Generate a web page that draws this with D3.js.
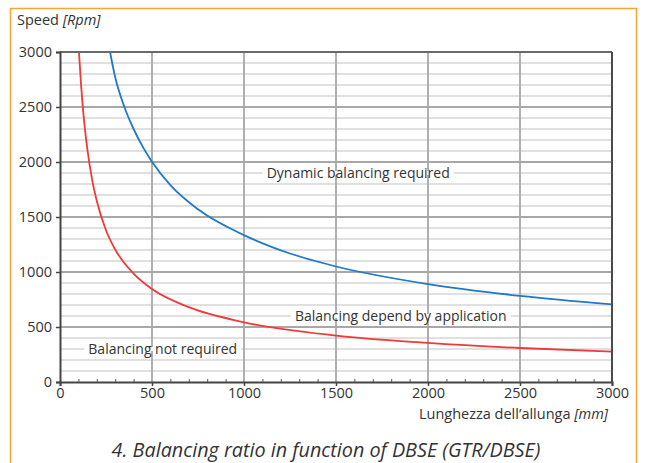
<!DOCTYPE html>
<html>
<head>
<meta charset="utf-8">
<script src="https://cdn.jsdelivr.net/npm/d3@7"></script>
<style>
  body { margin: 0; background: #fff; }
  svg { display: block; }
  text { font-family: "Open Sans", sans-serif; fill: #333; }
</style>
</head>
<body>
<svg id="chart" width="645" height="463"></svg>
<script>
// Axis ticks
const lengthTicks = [0, 500, 1000, 1500, 2000, 2500, 3000];
const speedTicks = [0, 500, 1000, 1500, 2000, 2500, 3000];

// Upper limit: above it dynamic balancing is required
const dynamicLength = [272, 300, 350, 400, 450, 500, 600, 750, 1000, 1250, 1500, 2000, 2500, 3000];
const dynamicSpeed  = [3000, 2770, 2500, 2300, 2138, 2003, 1790, 1570, 1335, 1168, 1050, 890, 783, 706];

// Lower limit: below it no balancing is needed
const staticLength = [103, 115, 130, 150, 175, 200, 250, 300, 400, 500, 700, 1000, 1500, 2000, 2500, 3000];
const staticSpeed  = [3000, 2690, 2390, 2100, 1835, 1645, 1380, 1205, 985, 845, 680, 543, 422, 355, 309, 277];

// Zone labels, anchored at (length, speed)
const zoneLabels = ["Dynamic balancing required", "Balancing depend by application", "Balancing not required"];
const zoneLength = [1123, 1277, 154];
const zoneSpeed  = [1900, 600, 300];

const svg = d3.select("#chart");
const x = d3.scaleLinear().domain([0, 3000]).range([60, 612]);
const y = d3.scaleLinear().domain([0, 3000]).range([382, 52]);

// Card frame
svg.append("path")
  .attr("d", "M10.5,470 V8.5 H636.5 V470")
  .attr("fill", "none").attr("stroke", "#f7a535").attr("stroke-width", 1.5);

// Axis titles and caption
const yTitle = svg.append("text").attr("x", 17).attr("y", 25).style("font-size", "14.5px");
yTitle.append("tspan").text("Speed ");
yTitle.append("tspan").style("font-style", "italic").text("[Rpm]");

const xTitle = svg.append("text").attr("x", 608).attr("y", 419)
  .attr("text-anchor", "end").style("font-size", "14.5px");
xTitle.append("tspan").text("Lunghezza dell\u2019allunga ");
xTitle.append("tspan").style("font-style", "italic").text("[mm]");

svg.append("text").attr("x", 326).attr("y", 457).attr("text-anchor", "middle")
  .style("font-size", "19.8px").style("font-style", "italic")
  .text("4. Balancing ratio in function of DBSE (GTR/DBSE)");

// Horizontal grid: minor every 100, major every 500
const minorSpeed = d3.range(100, 3000, 100).filter(v => v % 500 !== 0);
svg.append("g").selectAll("line").data(minorSpeed).join("line")
  .attr("x1", x(0)).attr("x2", x(3000))
  .attr("y1", d => y(d)).attr("y2", d => y(d))
  .attr("stroke", "#d6d6d6").attr("stroke-width", 1.6);
svg.append("g").selectAll("line").data(speedTicks.filter(v => v > 0 && v < 3000)).join("line")
  .attr("x1", x(0)).attr("x2", x(3000))
  .attr("y1", d => y(d)).attr("y2", d => y(d))
  .attr("stroke", "#a8a8a8").attr("stroke-width", 1.8);

// Zone labels sit on a gridline, masking it behind the text
const labels = svg.append("g");
zoneLabels.forEach((t, i) => {
  const g = labels.append("g");
  const txt = g.append("text")
    .attr("x", x(zoneLength[i])).attr("y", y(zoneSpeed[i]) + 5)
    .style("font-size", "14px").text(t);
  const w = txt.node().getComputedTextLength();
  g.insert("rect", "text")
    .attr("x", x(zoneLength[i]) - 4).attr("y", y(zoneSpeed[i]) - 2)
    .attr("width", w + 8).attr("height", 4).attr("fill", "#fff");
});

// Vertical grid
svg.append("g").selectAll("line").data(lengthTicks.filter(v => v > 0 && v < 3000)).join("line")
  .attr("x1", d => x(d)).attr("x2", d => x(d))
  .attr("y1", y(0)).attr("y2", y(3000))
  .attr("stroke", "#a8a8a8").attr("stroke-width", 1.8);

// Limit curves
const line = d3.line().curve(d3.curveMonotoneX);
svg.append("path")
  .attr("d", line(dynamicLength.map((l, i) => [x(l), y(dynamicSpeed[i])])))
  .attr("fill", "none").attr("stroke", "#1f78c8").attr("stroke-width", 1.8);
svg.append("path")
  .attr("d", line(staticLength.map((l, i) => [x(l), y(staticSpeed[i])])))
  .attr("fill", "none").attr("stroke", "#ef3a3a").attr("stroke-width", 1.8);

// Bring label text above the vertical grid lines and curves
labels.raise();

// Plot frame
svg.append("line").attr("x1", x(0)).attr("x2", x(3000)).attr("y1", y(3000)).attr("y2", y(3000))
  .attr("stroke", "#6a6a6a").attr("stroke-width", 2);
svg.append("line").attr("x1", x(3000)).attr("x2", x(3000)).attr("y1", y(0)).attr("y2", y(3000))
  .attr("stroke", "#4a4a4a").attr("stroke-width", 2);

// Axes
const yAxis = svg.append("g").attr("transform", `translate(${x(0)},0)`)
  .call(d3.axisLeft(y).tickValues(speedTicks).tickSize(4).tickPadding(4).tickFormat(d3.format("d")));
const xAxis = svg.append("g").attr("transform", `translate(0,${y(0)})`)
  .call(d3.axisBottom(x).tickValues(lengthTicks).tickSize(4).tickPadding(2).tickFormat(d3.format("d")));
const minorLength = d3.range(100, 3000, 100).filter(v => v % 500 !== 0);
svg.append("g").attr("transform", `translate(0,${y(0)})`)
  .call(d3.axisBottom(x).tickValues(minorLength).tickSize(-3).tickFormat(""))
  .call(g => g.select(".domain").remove())
  .selectAll("line").attr("stroke", "#555");

[yAxis, xAxis].forEach(a => {
  a.select(".domain").attr("stroke", "#444").attr("stroke-width", 2);
  a.selectAll(".tick line").attr("stroke", "#444").attr("stroke-width", 1.5);
  a.selectAll(".tick text").style("font-size", "14.5px").style("font-family", "Open Sans, sans-serif").attr("fill", "#333");
});
</script>
</body>
</html>
